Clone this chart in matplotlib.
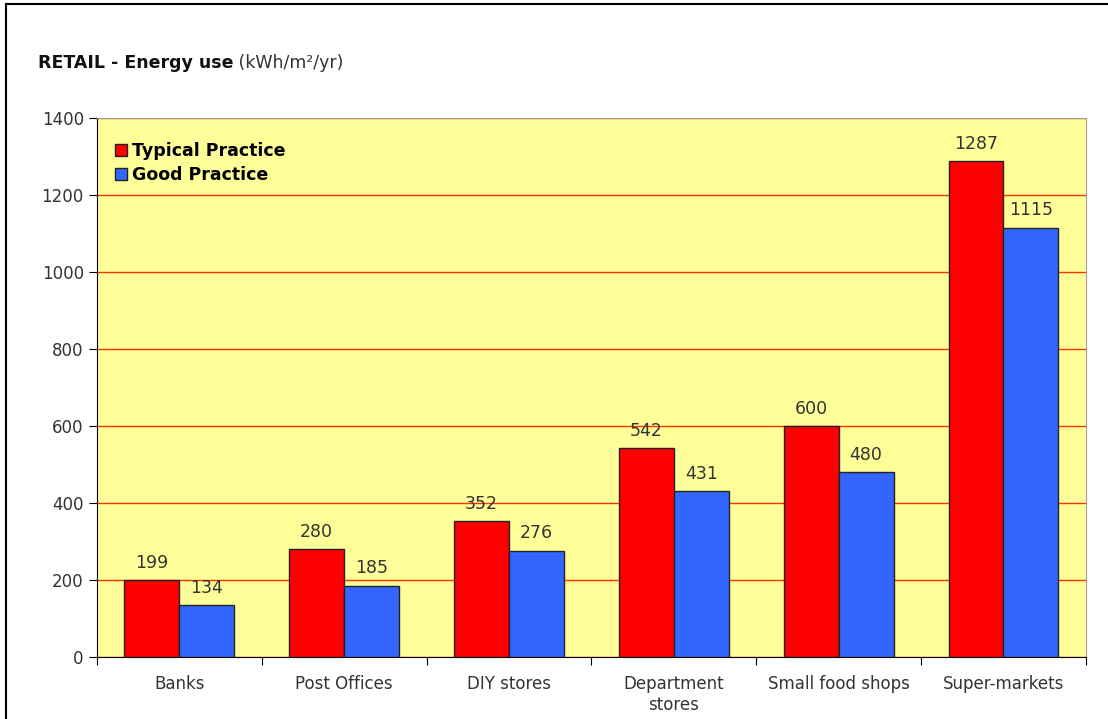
import numpy as np
import matplotlib.pyplot as plt
from matplotlib.lines import Line2D

# Energy use of retail buildings, kWh/m2/yr
categories = ['Banks', 'Post Offices', 'DIY stores', 'Department\nstores',
              'Small food shops', 'Super-markets']
typical = [199, 280, 352, 542, 600, 1287]
good = [134, 185, 276, 431, 480, 1115]

red = '#ff0000'
blue = '#3366ff'
txt = '#333333'

fig = plt.figure(figsize=(11.08, 7.19), dpi=100)
ax = fig.add_axes([0.0875, 0.0862, 0.8925, 0.7498])
ax.set_facecolor('#ffff99')

x = np.arange(len(categories))
w = 0.333
b1 = ax.bar(x - w / 2, typical, w, color=red, edgecolor='#222222', linewidth=1,
            label='Typical Practice', zorder=3)
b2 = ax.bar(x + w / 2, good, w, color=blue, edgecolor='#222222', linewidth=1,
            label='Good Practice', zorder=3)

for bars, vals in ((b1, typical), (b2, good)):
    for r, v in zip(bars, vals):
        ax.text(r.get_x() + r.get_width() / 2, v + 22, str(v), ha='center',
                va='bottom', fontsize=12.5, color=txt, zorder=4)

ax.set_ylim(0, 1400)
ax.set_xlim(-0.5, len(categories) - 0.5)
ax.set_yticks(range(0, 1401, 200))
ax.yaxis.grid(True, color='#ff3300', linewidth=1, zorder=1)
ax.tick_params(axis='y', labelsize=12, labelcolor=txt, length=6, direction='out')

# tick marks between groups, labels centred under each group
ax.set_xticks(np.arange(-0.5, len(categories), 1.0))
ax.set_xticklabels([])
ax.set_xticks(x, minor=True)
ax.set_xticklabels(categories, minor=True, fontsize=12, color=txt, va='top')
ax.tick_params(axis='x', which='major', length=6, direction='out')
ax.tick_params(axis='x', which='minor', length=0, pad=13)

for s in ('top', 'right'):
    ax.spines[s].set_color('#a0a0a0')
for s in ('left', 'bottom'):
    ax.spines[s].set_color('black')

handles = [Line2D([], [], marker='s', linestyle='', markersize=9,
                  markerfacecolor=c, markeredgecolor='#222222')
           for c in (red, blue)]
leg = ax.legend(handles, ['Typical Practice', 'Good Practice'], loc='upper left',
                frameon=False, fontsize=12.5, handletextpad=0.1,
                handlelength=1.0, labelspacing=0.35,
                bbox_to_anchor=(0.0, 0.985))
for t in leg.get_texts():
    t.set_fontweight('bold')

# chart heading
t1 = fig.text(0.034, 0.906, 'RETAIL - Energy use', fontsize=12.5,
              fontweight='bold', color='#111111', va='baseline')
ax.annotate(' (kWh/m²/yr)', xy=(1, 0), xycoords=t1, fontsize=12.5,
            color=txt, va='bottom', annotation_clip=False)

# frame lines along top and left of the figure
fig.add_artist(Line2D([0.005, 1.0], [0.994, 0.994], color='black', linewidth=1.5))
fig.add_artist(Line2D([0.0055, 0.0055], [0.0, 0.994], color='black', linewidth=1.5))

fig.savefig('out.png', dpi=100)
